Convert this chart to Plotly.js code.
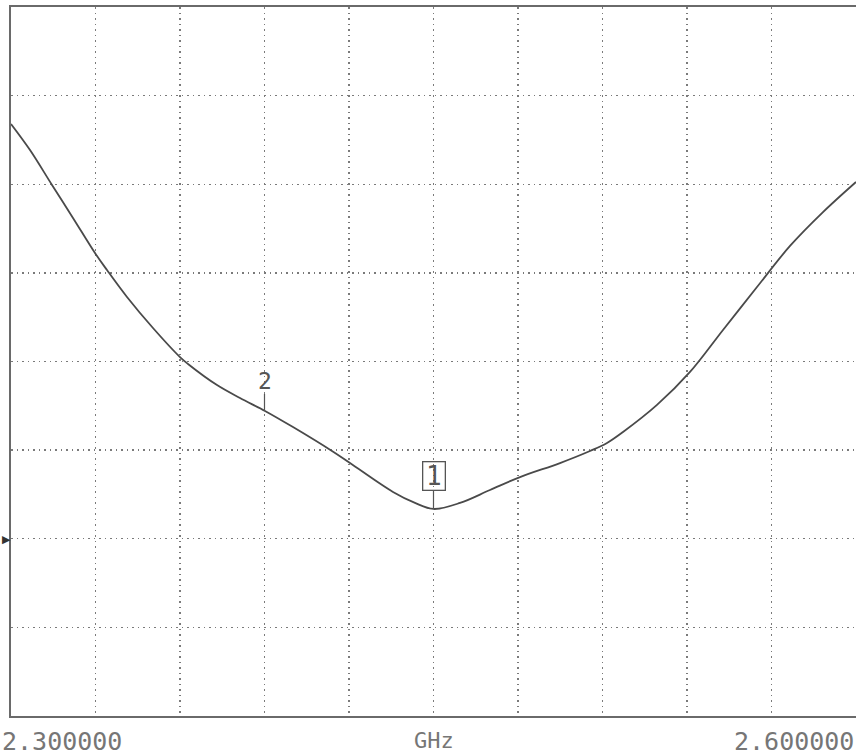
<!DOCTYPE html>
<html>
<head>
<meta charset="utf-8">
<script src="https://cdn.plot.ly/plotly-3.0.1.min.js"></script>
<style>html,body{margin:0;padding:0;background:#fff;}#chart{width:856px;height:755px;}</style>
</head>
<body>
<div id="chart"></div>
<script>
// Frequency (GHz) and trace level (dB, 5 dB/div)
const freqGHz = [2.3000, 2.30675, 2.31456, 2.32201, 2.32982, 2.33408, 2.34118, 2.35041, 2.36000, 2.36284,
  2.37314, 2.38130, 2.39018, 2.40012, 2.41396, 2.42036, 2.43562, 2.44343, 2.4500, 2.45941,
  2.47006, 2.48071, 2.49491, 2.50556, 2.51160, 2.51728, 2.52935, 2.54107, 2.55278, 2.56485,
  2.57657, 2.58828, 2.6000];
const levelDB = [-6.60, -8.07, -10.04, -11.90, -13.88, -14.84, -16.36, -18.11, -19.75, -20.14,
  -21.33, -22.06, -22.79, -23.70, -25.05, -25.73, -27.36, -27.98, -28.32, -27.98,
  -27.25, -26.52, -25.73, -25.05, -24.60, -23.98, -22.45, -20.59, -18.22, -15.80,
  -13.48, -11.57, -9.87];
const markerFreq = [2.45, 2.39];
const markerLabels = ['1', '2'];
const startLabel = '2.300000';
const stopLabel = '2.600000';
const unitLabel = 'GHz';
const refLevel = -30;

function levelAt(f) {
  let best = 0;
  for (let i = 0; i < freqGHz.length; i++) {
    if (Math.abs(freqGHz[i] - f) < Math.abs(freqGHz[best] - f)) best = i;
  }
  return levelDB[best];
}

const trace = {
  x: freqGHz, y: levelDB, type: 'scatter', mode: 'lines',
  line: {color: '#4a4a4a', width: 1.8, shape: 'spline', smoothing: 1.0},
  hoverinfo: 'none'
};

const monoFont = 'DejaVu Sans Mono, monospace';
const annotations = [];
markerFreq.forEach((f, i) => {
  const boxed = i === 0;
  const a = {
    x: f, y: levelAt(f), xref: 'x', yref: 'y',
    text: markerLabels[i], showarrow: true, arrowhead: 0, arrowwidth: 1.2, arrowcolor: '#555',
    ax: 0, ay: -30,
    font: {family: monoFont, size: boxed ? 26 : 23, color: '#555'},
    bordercolor: boxed ? '#555' : 'rgba(0,0,0,0)', borderwidth: boxed ? 1.3 : 0, borderpad: 0,
    bgcolor: 'rgba(255,255,255,0)'
  };
  if (boxed) { a.width = 21; a.height = 27; a.ay = -33; }
  annotations.push(a);
});
annotations.push({x: 0, y: refLevel, xref: 'paper', yref: 'y', text: '▶', showarrow: false,
  xanchor: 'right', xshift: 2, font: {size: 11, color: '#333'}});
annotations.push({x: 0, y: 0, xref: 'paper', yref: 'paper', text: startLabel, showarrow: false,
  xanchor: 'left', yanchor: 'top', yshift: -9, xshift: -11,
  font: {family: monoFont, size: 25, color: '#767676'}});
annotations.push({x: 1, y: 0, xref: 'paper', yref: 'paper', text: stopLabel, showarrow: false,
  xanchor: 'right', yanchor: 'top', yshift: -9, xshift: 0,
  font: {family: monoFont, size: 25, color: '#767676'}});
annotations.push({x: 0.5, y: 0, xref: 'paper', yref: 'paper', text: unitLabel, showarrow: false,
  xanchor: 'center', yanchor: 'top', yshift: -10,
  font: {family: monoFont, size: 22, color: '#767676'}});

const gridStyle = {showgrid: true, gridcolor: '#7a7a7a', gridwidth: 1.3, griddash: '1.5px,4px',
  zeroline: false, showticklabels: false, ticks: '',
  showline: true, linecolor: '#6a6a6a', linewidth: 2, mirror: true};

const layout = {
  width: 856, height: 755,
  margin: {l: 11, r: 0, t: 7, b: 39},
  paper_bgcolor: '#fff', plot_bgcolor: '#fff',
  showlegend: false,
  xaxis: Object.assign({range: [2.3, 2.6], dtick: 0.03, tick0: 2.3}, gridStyle),
  yaxis: Object.assign({range: [-40, 0], dtick: 5, tick0: -40}, gridStyle),
  annotations: annotations
};

Plotly.newPlot('chart', [trace], layout, {staticPlot: true, displayModeBar: false});
</script>
</body>
</html>
